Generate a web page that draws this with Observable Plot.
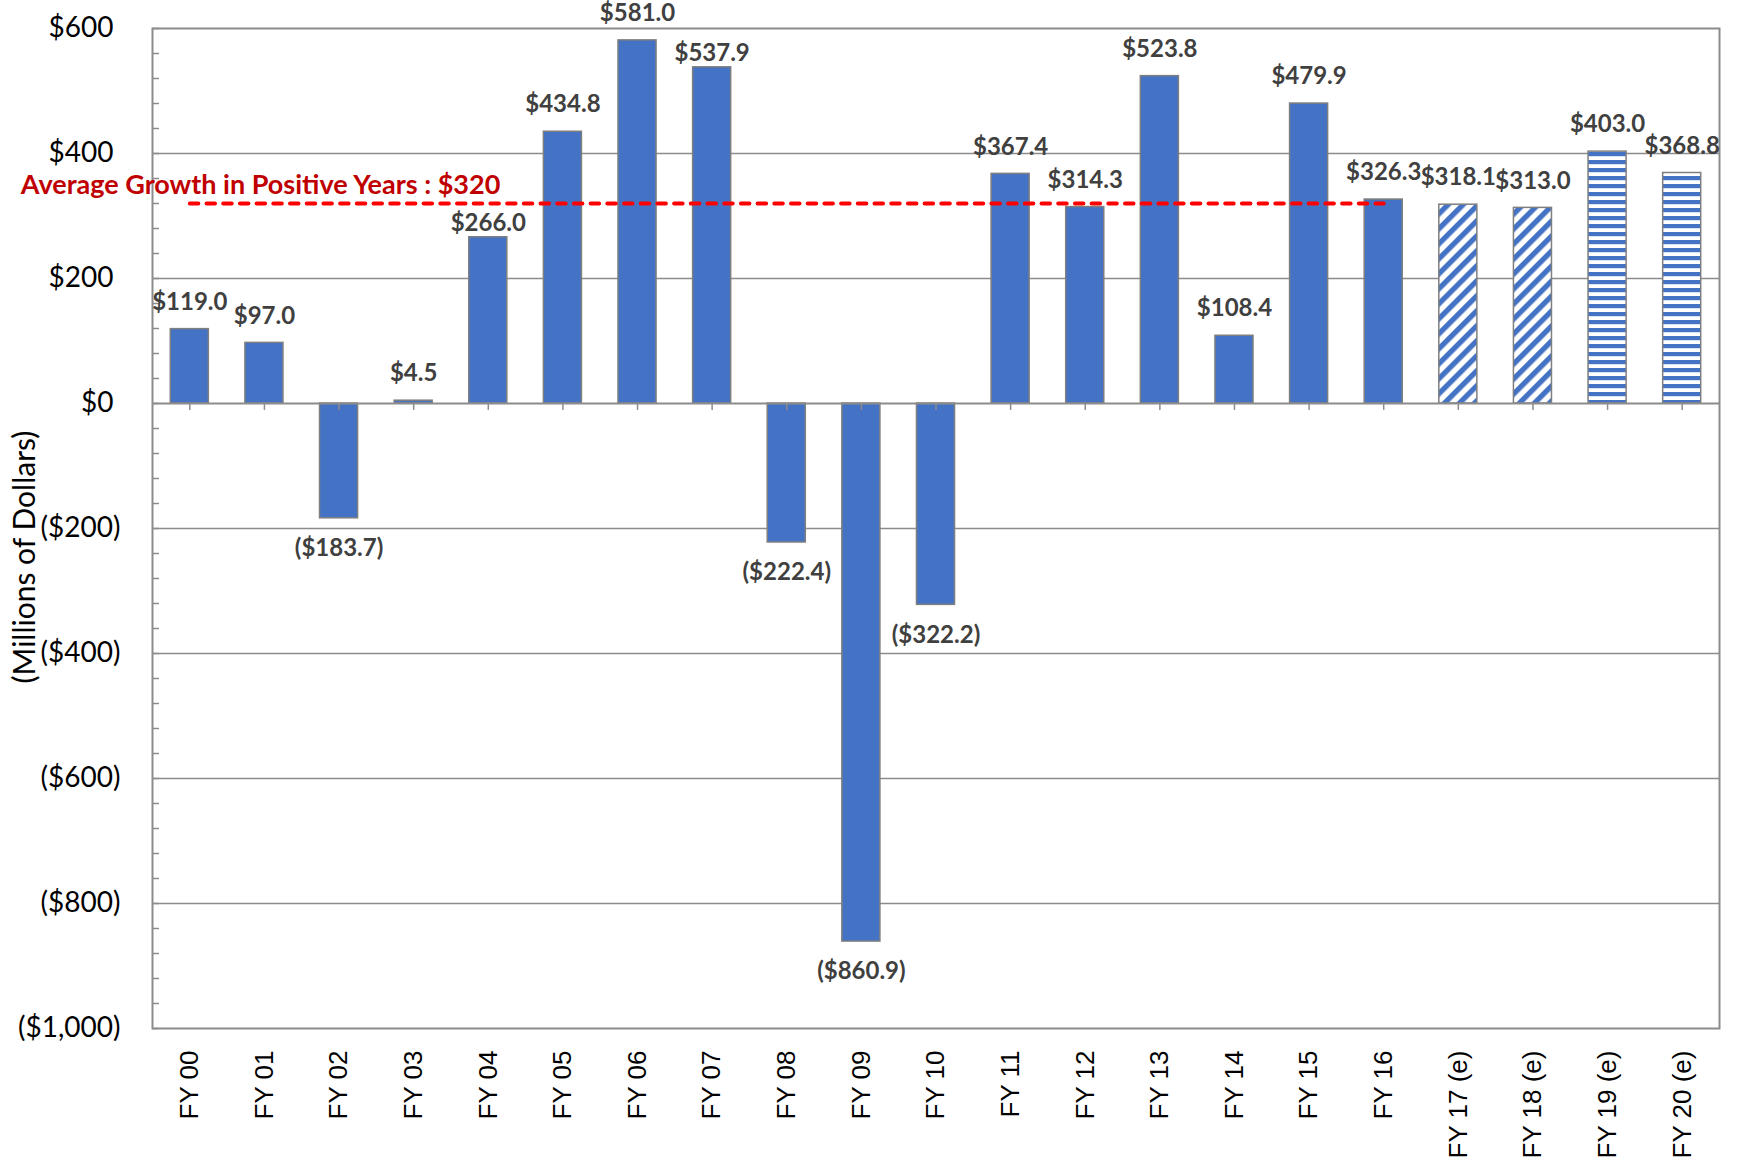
<!DOCTYPE html>
<html>
<head>
<meta charset="utf-8">
<script src="https://cdn.jsdelivr.net/npm/d3@7"></script>
<script src="https://cdn.jsdelivr.net/npm/@observablehq/plot@0.6"></script>
<style>
  html, body { margin: 0; padding: 0; background: #fff; }
  #chart svg { display: block; }
</style>
</head>
<body>
<div id="chart"></div>
<script>
// ---- Data ----
const categories = ["FY 00","FY 01","FY 02","FY 03","FY 04","FY 05","FY 06","FY 07","FY 08","FY 09","FY 10",
  "FY 11","FY 12","FY 13","FY 14","FY 15","FY 16","FY 17 (e)","FY 18 (e)","FY 19 (e)","FY 20 (e)"];
const values = [119.0, 97.0, -183.7, 4.5, 266.0, 434.8, 581.0, 537.9, -222.4, -860.9, -322.2,
  367.4, 314.3, 523.8, 108.4, 479.9, 326.3, 318.1, 313.0, 403.0, 368.8];
const series = ["Actual","Actual","Actual","Actual","Actual","Actual","Actual","Actual","Actual","Actual","Actual",
  "Actual","Actual","Actual","Actual","Actual","Actual","Estimate A","Estimate A","Estimate B","Estimate B"];
const averagePositive = 320;
const averageLabel = "Average Growth in Positive Years : $320";
const averageSpan = ["FY 00", "FY 16"];
const loweredLabels = ["FY 04", "FY 07"]; // labels sitting closer to their bars in the original
const yMajorTicks = [600, 400, 200, 0, -200, -400, -600, -800, -1000];
const yMinorTicks = d3.range(-1000, 601, 40);
const yGridTicks = [400, 200, -200, -400, -600, -800];
const yTitle = "(Millions of Dollars)";

// ---- Build ----
const data = categories.map((c, i) => ({category: c, value: values[i], series: series[i]}));
const fmtNum = d3.format(",.1f");
const fmtVal = v => v < 0 ? `($${fmtNum(-v)})` : `$${fmtNum(v)}`;
const fmtAxis = v => v < 0 ? `($${d3.format(",")(-v)})` : `$${d3.format(",")(v)}\u2005`;

const W = 1739, H = 1171;
const barStroke = "#7f7f7f";
const gridColor = "#8c8c8c";
const labelFont = "Lato, 'Open Sans', sans-serif";
const valueStyle = {fontSize: 24, fontWeight: "bold", fontFamily: labelFont, fill: "#404040"};

const posNormal = data.filter(d => d.value >= 0 && !loweredLabels.includes(d.category));
const posLowered = data.filter(d => d.value >= 0 && loweredLabels.includes(d.category));
const negatives = data.filter(d => d.value < 0);

const chart = Plot.plot({
  width: W,
  height: H,
  marginTop: 28,
  marginLeft: 152,
  marginRight: 20,
  marginBottom: 143,
  style: {background: "white", overflow: "visible", color: "black"},
  x: {domain: categories, paddingInner: 0.49, paddingOuter: 0.245, round: false},
  y: {domain: [-1000, 600]},
  marks: [
    Plot.ruleY(yGridTicks, {stroke: gridColor, strokeWidth: 1.5}),
    Plot.frame({stroke: gridColor, strokeWidth: 2}),
    Plot.barY(data.filter(d => d.series === "Actual"), {x: "category", y: "value", fill: "#4472C4", stroke: barStroke, strokeWidth: 1.5}),
    Plot.barY(data.filter(d => d.series === "Estimate A"), {x: "category", y: "value", fill: "url(#diagHatch)", stroke: barStroke, strokeWidth: 1.5}),
    Plot.barY(data.filter(d => d.series === "Estimate B"), {x: "category", y: "value", fill: "url(#horizHatch)", stroke: barStroke, strokeWidth: 1.5}),
    Plot.ruleY([0], {stroke: gridColor, strokeWidth: 2}),
    Plot.ruleX(categories, {x: d => d, y1: 0, y2: -11, stroke: gridColor, strokeWidth: 1.5}),
    Plot.axisY(yMinorTicks, {tickSize: 7, dx: 7, tickFormat: () => "", label: null, stroke: gridColor, strokeWidth: 1.5}),
    Plot.axisY(yMajorTicks, {tickSize: 0, tickPadding: 32, tickFormat: fmtAxis, label: null, fontSize: 28, fontFamily: labelFont, fill: "black"}),
    Plot.axisX({anchor: "bottom", tickSize: 0, tickPadding: 22, tickRotate: -90, label: null, fontSize: 26, fontFamily: "'Liberation Sans', Arial, sans-serif", fill: "black"}),
    Plot.text([yTitle], {frameAnchor: "left", rotate: -90, dx: -127, dy: 155, fontSize: 30, fontFamily: labelFont, fill: "black"}),
    Plot.line(averageSpan.map(c => ({category: c, value: averagePositive})), {x: "category", y: "value", stroke: "#FF0000", strokeWidth: 4, strokeLinecap: "round", strokeDasharray: "8.5,8.2"}),
    Plot.text([{category: averageSpan[0], value: averagePositive}], {x: "category", y: "value", text: () => averageLabel, textAnchor: "start", dx: -169, dy: -18, fontSize: 27, fontWeight: "bold", fontFamily: labelFont, fill: "#C00000"}),
    Plot.text(posNormal, {x: "category", y: "value", text: d => fmtVal(d.value), dy: -27, ...valueStyle}),
    Plot.text(posLowered, {x: "category", y: "value", text: d => fmtVal(d.value), dy: -14, ...valueStyle}),
    Plot.text(negatives, {x: "category", y: "value", text: d => fmtVal(d.value), dy: 30, ...valueStyle})
  ]
});

d3.select(chart).insert("defs", ":first-child").html(`
  <pattern id="diagHatch" patternUnits="userSpaceOnUse" width="10.6" height="10.6" patternTransform="rotate(45)">
    <rect width="10.6" height="10.6" fill="white"/>
    <rect width="5.3" height="10.6" fill="#4472C4"/>
  </pattern>
  <pattern id="horizHatch" patternUnits="userSpaceOnUse" width="8" height="8">
    <rect width="8" height="8" fill="white"/>
    <rect y="0" width="8" height="4.2" fill="#4472C4"/>
  </pattern>
`);

document.getElementById("chart").appendChild(chart);
</script>
</body>
</html>
